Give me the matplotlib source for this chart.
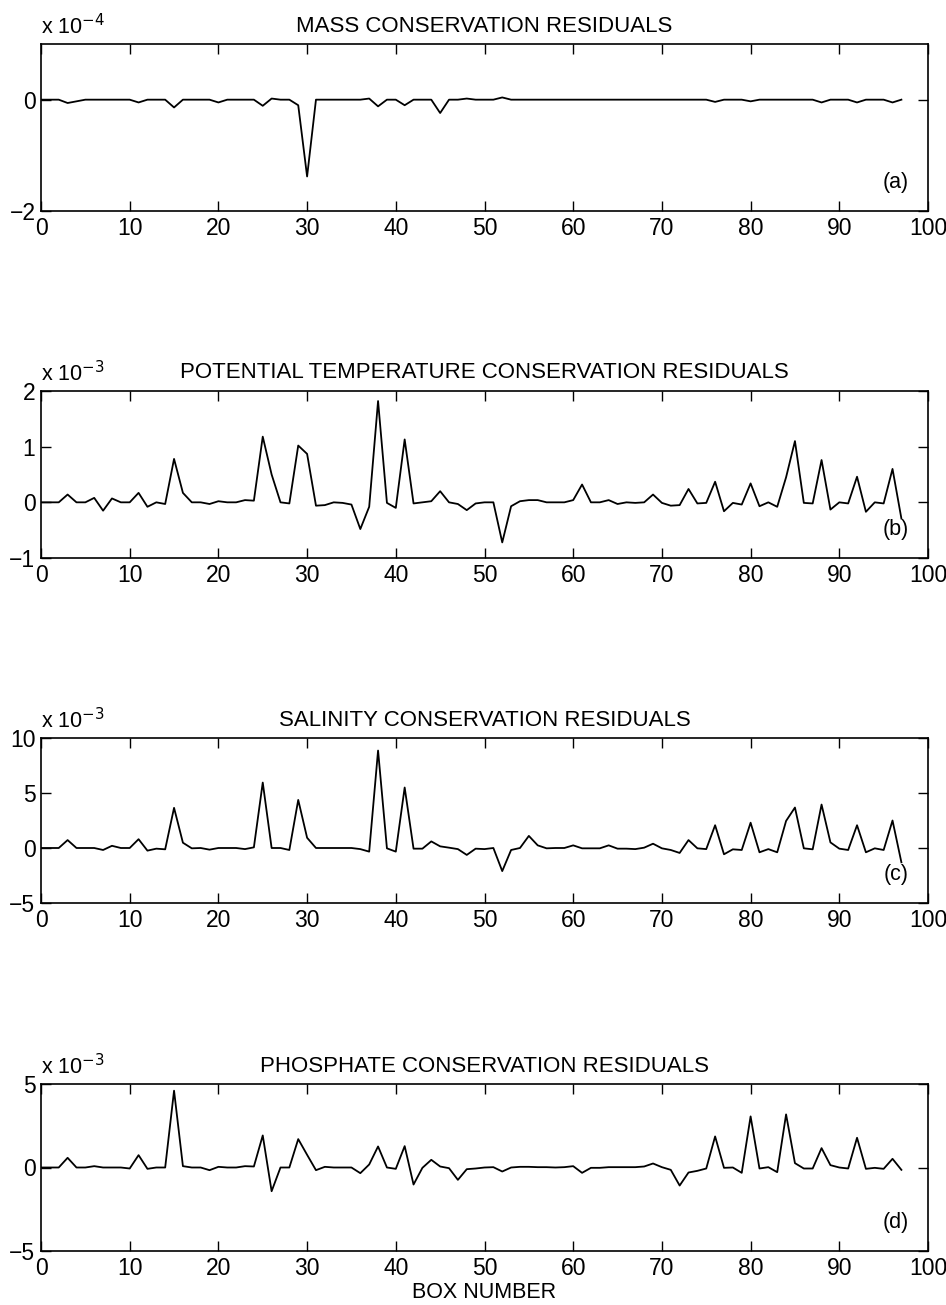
import numpy as np
import matplotlib.pyplot as plt

plt.rcParams['font.family'] = ['Liberation Sans', 'DejaVu Sans']

box = np.arange(0, 98)

# (a) mass residuals, units 1e-4
mass = np.zeros(98)
mass_dev = {3: -0.06, 4: -0.03, 11: -0.05, 15: -0.14, 20: -0.05, 25: -0.11, 26: 0.02,
            29: -0.1, 30: -1.38, 37: 0.02, 38: -0.12, 41: -0.1, 45: -0.24, 48: 0.02,
            52: 0.04, 76: -0.04, 80: -0.03, 88: -0.05, 92: -0.05, 96: -0.05}
for k, v in mass_dev.items():
    mass[k] = v

# (b) potential temperature residuals, units 1e-3
theta = [0, 0, 0, 0.14, 0, 0, 0.08, -0.15, 0.07, 0,
         0, 0.17, -0.08, 0, -0.03, 0.78, 0.17, 0, 0, -0.03,
         0.02, 0, 0, 0.04, 0.03, 1.18, 0.5, 0, -0.02, 1.02,
         0.87, -0.06, -0.05, 0, -0.01, -0.04, -0.48, -0.08, 1.82, -0.01,
         -0.1, 1.13, -0.02, 0, 0.02, 0.2, 0, -0.03, -0.14, -0.02,
         0, 0, -0.72, -0.07, 0.02, 0.04, 0.04, 0, 0, 0,
         0.04, 0.32, 0, 0, 0.04, -0.03, 0, -0.01, 0, 0.14,
         -0.01, -0.06, -0.05, 0.24, -0.02, -0.01, 0.37, -0.16, -0.01, -0.04,
         0.34, -0.07, 0, -0.08, 0.45, 1.1, -0.01, -0.02, 0.76, -0.13,
         0, -0.02, 0.46, -0.17, 0, -0.02, 0.6, -0.29]

# (c) salinity residuals, units 1e-3
salt = [0, 0, 0, 0.72, 0, 0, 0, -0.18, 0.2, 0,
        0, 0.8, -0.24, -0.06, -0.12, 3.65, 0.48, -0.03, 0, -0.15,
        0, 0, 0, -0.1, 0.06, 5.95, 0, 0, -0.18, 4.37,
        0.93, 0, 0, 0, 0, 0, -0.1, -0.33, 8.86, -0.03,
        -0.33, 5.5, -0.06, -0.06, 0.6, 0.15, 0.03, -0.1, -0.63, -0.06,
        -0.1, 0, -2.1, -0.18, 0, 1.1, 0.24, -0.03, 0, 0,
        0.24, -0.03, -0.03, -0.03, 0.24, -0.06, -0.06, -0.1, 0.03, 0.39,
        -0.03, -0.18, -0.45, 0.72, -0.03, -0.1, 2.07, -0.57, -0.12, -0.18,
        2.3, -0.39, -0.1, -0.39, 2.46, 3.68, -0.03, -0.12, 3.95, 0.51,
        -0.06, -0.18, 2.07, -0.39, -0.03, -0.18, 2.5, -1.3]

# (d) phosphate residuals, units 1e-3
phos = [0, 0, 0, 0.58, 0, 0, 0.08, 0, 0, 0,
        -0.06, 0.74, -0.08, 0, 0, 4.6, 0.08, 0, 0, -0.16,
        0.04, 0, 0, 0.08, 0.06, 1.92, -1.42, 0, 0, 1.7,
        0.76, -0.16, 0.04, 0, 0, 0, -0.34, 0.18, 1.26, 0,
        -0.08, 1.28, -1.02, -0.02, 0.46, 0.06, -0.04, -0.74, -0.1, -0.06,
        0, 0.02, -0.24, 0, 0.04, 0.04, 0.02, 0.02, 0, 0.02,
        0.08, -0.32, -0.02, -0.02, 0.02, 0.02, 0.02, 0.02, 0.06, 0.24,
        0.02, -0.14, -1.08, -0.3, -0.2, -0.06, 1.86, -0.02, 0, -0.32,
        3.06, -0.06, 0.02, -0.28, 3.18, 0.26, -0.06, -0.06, 1.16, 0.14,
        0, -0.06, 1.78, -0.08, -0.02, -0.08, 0.52, -0.14]

titles = ['MASS CONSERVATION RESIDUALS',
          'POTENTIAL TEMPERATURE CONSERVATION RESIDUALS',
          'SALINITY CONSERVATION RESIDUALS',
          'PHOSPHATE CONSERVATION RESIDUALS']
series = [mass, theta, salt, phos]
ylims = [(-2, 1), (-1, 2), (-5, 10), (-5, 5)]
yticks = [[-2, 0], [-1, 0, 1, 2], [-5, 0, 5, 10], [-5, 0, 5]]
exps = ['4', '3', '3', '3']
tags = ['(a)', '(b)', '(c)', '(d)']

# axes boxes in pixels: left, top, right, bottom
W, H = 946, 1305
boxes = [(41, 44, 928, 211), (41, 391, 928, 558), (41, 738, 928, 903), (41, 1084, 928, 1251)]

fig = plt.figure(figsize=(W / 100, H / 100), dpi=100)
fs = 16.5

for i in range(4):
    l, t, r, b = boxes[i]
    ax = fig.add_axes([l / W, 1 - b / H, (r - l) / W, (b - t) / H])
    ax.plot(box, series[i], color='black', linewidth=1.3)
    ax.set_xlim(0, 100)
    ax.set_ylim(*ylims[i])
    ax.set_xticks(np.arange(0, 101, 10))
    ax.set_yticks(yticks[i])
    ax.set_yticklabels([str(v).replace('-', '\u2212') for v in yticks[i]])
    ax.tick_params(direction='in', top=True, right=True, length=7, width=1,
                   labelsize=fs, pad=4)
    for s in ax.spines.values():
        s.set_linewidth(1.2)
    ax.set_title(titles[i], fontsize=16, pad=9)
    ax.text(0, 1.03, 'x 10$^{\u2212%s}$' % exps[i],
            transform=ax.transAxes, fontsize=15.5, ha='left', va='bottom')
    ax.text(0.978, 0.11, tags[i], transform=ax.transAxes, fontsize=15.5,
            ha='right', va='bottom')

ax.set_xlabel('BOX NUMBER', fontsize=15.5, labelpad=1.5)

fig.savefig('out.png', dpi=100)
